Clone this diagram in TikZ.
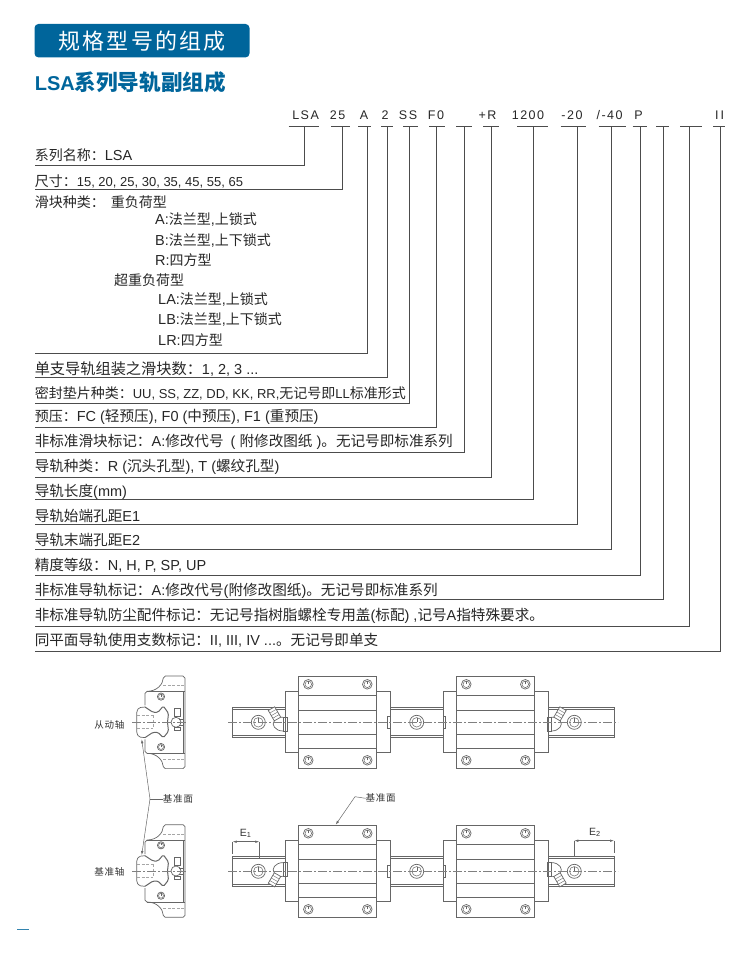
\documentclass[tikz,border=0pt]{standalone}
\usepackage{fontspec}
\setmainfont{Liberation Sans}
\newfontfamily\zhfont{Noto Sans CJK SC}
\newfontfamily\headfont[LetterSpace=10]{Noto Sans CJK SC}
\newfontfamily\smallzhfont[LetterSpace=8]{Noto Sans CJK SC}
\newfontfamily\codefont[LetterSpace=12]{Liberation Sans}
\newcommand{\zh}[1]{{\zhfont\fontsize{14}{16}\selectfont #1}}
\newcommand{\zhl}[1]{{\zhfont\fontsize{14.6}{16}\selectfont #1}}
\usetikzlibrary{arrows.meta}
\definecolor{headblue}{HTML}{00659B}
\definecolor{drawgray}{HTML}{666666}
\tikzset{
	lbl/.style={anchor=west,inner sep=0pt,text height=12pt,text depth=2pt,text=black!85,font=\fontsize{13}{15}\selectfont},
	lblwide/.style={lbl,font=\fontsize{14.5}{16}\selectfont},
	codetext/.style={inner sep=0pt,text=black!85,font=\codefont\fontsize{12.5}{15}\selectfont},
	leader/.style={draw=black!70,line width=0.9pt},
	underscore/.style={draw=black!70,line width=0.8pt},
	part/.style={draw=drawgray,line width=0.7pt},
	heavy/.style={draw=drawgray,line width=1pt},
	axisline/.style={draw=gray,line width=0.4pt,dash pattern=on 9pt off 2pt on 2pt off 2pt},
	hidden/.style={draw=gray!70,line width=0.4pt,dash pattern=on 3pt off 1.5pt},
	smalltxt/.style={inner sep=0pt,text=black!80,font=\smallzhfont\fontsize{9.5}{11}\selectfont},
	dimline/.style={draw=drawgray,line width=0.5pt},
}

\newcommand{\screwhole}[2]{

\begin{scope}[shift={#1}]
	\filldraw[part,fill=white] (0,0) circle (#2);
	\draw[part,line width=0.5pt] (0,0) circle (#2*0.68);
	\draw[dimline,line width=0.3pt] (0,0) -- (0,-#2*0.68);
\end{scope}

}

\newcommand{\railblock}[1]{

\begin{scope}[shift={(#1,0)}]
	\filldraw[heavy,fill=white] (0,-30.5) rectangle (105.5,30.5);
	\filldraw[part,fill=white] (13.7,-46.3) rectangle (91.7,46.3);
	\foreach \y in {-27.3,-11.6,11.7,26.4}
		\draw[part] (13.7,\y) -- (91.7,\y);
	; %end for \y
	\foreach \x in {23.3,82.3}
		\foreach \y in {-38,38}
			\screwhole{(\x,\y)}{4.8}
		; %end for \y
	; %end for \x
\end{scope}

}

\newcommand{\nipple}[2]{

\begin{scope}[shift={#1},yscale=#2]
	\draw[part] (0,-5) rectangle (4.3,8.7);
	\draw[part] (-2.3,-5.15) -- (0,-5);
	\draw[part] (-8.7,-1.45) .. controls (-12,2) and (-8,8.7) .. (0,8.7);
	\filldraw[part,fill=white] (-14.7,-11.85) -- (-8.3,-15.55) -- (-2.3,-5.15) -- (-8.7,-1.45) -- cycle;
	\draw[part,line width=0.4pt] (-13.2,-9.25) -- (-6.8,-12.95);
	\draw[part,line width=0.4pt] (-11.7,-6.65) -- (-5.3,-10.35);
	\draw[part,line width=0.4pt] (-10.2,-4.05) -- (-3.8,-7.75);
\end{scope}

}

\newcommand{\railview}[2]{

\begin{scope}[shift={(0,#1)}]
	\draw[part] (232.7,-15.3) rectangle (614,15.3);
	\draw[part] (232.7,-13) -- (614,-13);
	\draw[part] (232.7,13) -- (614,13);
	\foreach \x in {258.3,416.7,574.3}
		\screwhole{(\x,0)}{7}
	; %end for \x
	\railblock{285}
	\railblock{443}
	\draw[part] (387.7,-6.3) rectangle (390.5,6.3);
	\draw[part] (443,-6.3) rectangle (445.5,6.3);
	\nipple{(283,0)}{#2}
	\begin{scope}[shift={(551.5,0)},xscale=-1]
		\nipple{(0,0)}{#2}
	\end{scope}
	\draw[axisline] (228,0) -- (618,0);
\end{scope}

}

\newcommand{\sideview}[1]{

\begin{scope}[shift={#1}]
	\draw[part] (-5,-17) -- (-5,-29) -- (-3,-31) .. controls (7,-31) and (13,-38) .. (13.3,-44.3) -- (15.3,-46.3) -- (33,-46.3) -- (35,-44.3) -- (35,44.3) -- (33,46.3) -- (15.3,46.3) -- (13.3,44.3) .. controls (13,38) and (7,31) .. (-3,31) -- (-5,29) -- (-5,17);
	\draw[part] (-3,-31) -- (35,-31);
	\draw[part] (-3,31) -- (35,31);
	\draw[part] (33.3,-31) -- (33.3,31);
	\foreach \y in {-37,37}
		\draw[hidden] (13.3,\y) -- (35,\y);
	; %end for \y
	\screwhole{(11,-25.7)}{3.6}
	\screwhole{(11,24.7)}{3.6}
	\draw[part,rounded corners=1.5pt] (-5,-15.3) -- (-11,-14.7) -- (-13.3,-11) -- (-13.3,11) -- (-11,14.7) -- (-5,15.3);
	\draw[heavy,rounded corners=1.5pt] (-5,-15.3) -- (3,-10) -- (8,-10) -- (13.3,-16.3) -- (18.5,-9) -- (17.5,0) -- (18.5,9) -- (13.3,15.5) -- (8,10) -- (3,10) -- (-5,15.3);
	\foreach \y in {-7,6}
		\draw[hidden] (-13,\y) -- (3,\y);
	; %end for \y
	\draw[hidden] (3,-7) -- (3,6);
	\draw[part] (26,0) circle (5);
	\draw[part] (24.3,-14) rectangle (30,-5.7);
	\draw[part] (24.3,5) rectangle (30,8);
	\draw[part] (29,-3) -- (33.3,-3);
	\draw[part] (29,3) -- (33.3,3);
	\draw[axisline] (-18,0) -- (37,0);
\end{scope}

}

\begin{document}
\begin{tikzpicture}[x=1pt,y=-1pt]

	\useasboundingbox (0,0) rectangle (750,954);

	% headings
	\node[fill=headblue,rounded corners=4pt,minimum width=215pt,minimum height=33.5pt,inner sep=0pt,text=white,font=\headfont\fontsize{22}{24}\selectfont] (hdrMain) at (142,40.7) {规格型号的组成};
	\node[anchor=west,inner sep=0pt,text=headblue,font=\bfseries\fontsize{20}{22}\selectfont] (hdrSub) at (34.6,82) {LSA{\zhfont\fontsize{21.6}{22}\selectfont 系列导轨副组成}};

	% model code
	\foreach \name/\x/\txt in {LSA/305.6/LSA, Size/337.5/25, Type/364/A, Num/385/2, Seal/408/SS, Pre/436/F0, Rail/487.5/+R, Len/528/1200, Start/572/-20, End/609.6/{/-40}, Grade/638.5/P, Plane/719.7/I\,I}
		\node[codetext] (code\name) at (\x,115) {\txt};
	; %end for \name

	% underscores and leaders to the rows
	\foreach \name/\xa/\xb/\xv/\ya in {LSA/288.5/318.8/304.3/165, Size/331/350/342.8/189, Type/358/371/367.8/353, Num/381/393/387/377, Seal/403/418/409.6/403, Pre/429/445/436.5/427, Std/456/472/464/452, Rail/483/498.6/491/477, Len/517/548/533/499, Start/560.6/585.6/577/524, End/598.6/626/611.5/549, Grade/632.7/646.6/640/575, Mark/656/669/663/599, Dust/680/702/689/626, Plane/713/724.5/720/651}{
		\draw[underscore] (\xa,126.3) -- (\xb,126.3);
		\coordinate (tick\name) at (\xv,126.3);
		\coordinate (row\name) at (34.6,\ya);
		\draw[leader] (tick\name) |- (row\name);
	} %end for \name

	% rows
	\node[lblwide] (lblSeries) at (34.6,155) {\zh{系列名称：}LSA};
	\node[lbl] (lblSize) at (34.6,181) {\zh{尺寸：}15, 20, 25, 30, 35, 45, 55, 65};
	\node[lbl] (lblType) at (34.6,202) {\zh{滑块种类：}};
	\node[lbl] (lblHeavy) at (110.7,202) {\zh{重负荷型}};
	\node[lblwide] (lblA) at (155,219.5) {A:\zh{法兰型},\zh{上锁式}};
	\node[lblwide] (lblB) at (155,240) {B:\zh{法兰型},\zh{上下锁式}};
	\node[lblwide] (lblR) at (155,260) {R:\zh{四方型}};
	\node[lbl] (lblSuper) at (114,280) {\zh{超重负荷型}};
	\node[lblwide] (lblLA) at (158,299.5) {LA:\zh{法兰型},\zh{上锁式}};
	\node[lblwide] (lblLB) at (158,319.5) {LB:\zh{法兰型},\zh{上下锁式}};
	\node[lblwide] (lblLR) at (158,340) {LR:\zh{四方型}};
	\node[lblwide] (lblNum) at (34.6,369) {{\zhfont\fontsize{15.2}{16}\selectfont 单支导轨组装之滑块数：}1, 2, 3 ...};
	\node[lbl] (lblSeal) at (34.6,393) {\zh{密封垫片种类：}UU, SS, ZZ, DD, KK, RR,\zh{无记号即}LL\zh{标准形式}};
	\node[lblwide] (lblPre) at (34.6,416) {\zh{预压：}FC (\zhl{轻预压}), F0 (\zhl{中预压}), F1 (\zhl{重预压})};
	\node[lblwide] (lblStd) at (34.6,441) {\zhl{非标准滑块标记：}A:\zhl{修改代号}\hspace{3pt} ( \zhl{附修改图纸} )\zhl{。无记号即标准系列}};
	\node[lblwide] (lblRail) at (34.6,466) {\zhl{导轨种类：}R (\zhl{沉头孔型}), T (\zhl{螺纹孔型})};
	\node[lblwide] (lblLen) at (34.6,491) {\zhl{导轨长度}(mm)};
	\node[lblwide] (lblStart) at (34.6,516) {\zhl{导轨始端孔距}E1};
	\node[lblwide] (lblEnd) at (34.6,540) {\zhl{导轨末端孔距}E2};
	\node[lblwide] (lblGrade) at (34.6,565) {\zhl{精度等级：}N, H, P, SP, UP};
	\node[lblwide] (lblMark) at (34.6,590) {\zhl{非标准导轨标记：}A:\zhl{修改代号}(\zhl{附修改图纸})\zhl{。无记号即标准系列}};
	\node[lblwide] (lblDust) at (34.6,615) {\zhl{非标准导轨防尘配件标记：无记号指树脂螺栓专用盖}(\zhl{标配}) ,\zhl{记号}A\zhl{指特殊要求。}};
	\node[lblwide] (lblPlane) at (34.6,640) {\zhl{同平面导轨使用支数标记：}II, III, IV ...\zhl{。无记号即单支}};

	% side views
	\sideview{(150,722.3)}
	\sideview{(150,871)}
	\node[smalltxt] (lblDriven) at (109.3,725) {从动轴};
	\node[smalltxt] (lblBase) at (109.3,872) {基准轴};
	\node[smalltxt] (lblFaceSide) at (178,799) {基准面};
	\coordinate (branchSide) at (150,799);
	\coordinate (tipUpper) at (141.7,739.3);
	\coordinate (tipLower) at (141.7,855);
	\draw[dimline] (lblFaceSide.west) -- (branchSide);
	\draw[dimline,-{Latex[length=4pt,width=2.5pt]}] (branchSide) -- (tipUpper);
	\draw[dimline,-{Latex[length=4pt,width=2.5pt]}] (branchSide) -- (tipLower);

	% rail views
	\railview{722.3}{1}
	\railview{871.3}{-1}

	% datum face
	\node[smalltxt] (lblFaceTop) at (380.7,798.3) {基准面};
	\coordinate (bendFace) at (355,796.7);
	\coordinate (tipFace) at (335.7,824.7);
	\draw[dimline,-{Latex[length=4pt,width=2.5pt]}] (lblFaceTop.west) -- (bendFace) -- (tipFace);

	% hole distance E1, E2
	\coordinate (eOneA) at (232.7,841.7);
	\coordinate (eOneB) at (259.3,841.7);
	\coordinate (eTwoA) at (574.3,840.7);
	\coordinate (eTwoB) at (614,840.7);
	\draw[dimline,{Latex[length=4pt,width=2.5pt]}-{Latex[length=4pt,width=2.5pt]}] (eOneA) -- (eOneB);
	\draw[dimline,{Latex[length=4pt,width=2.5pt]}-{Latex[length=4pt,width=2.5pt]}] (eTwoA) -- (eTwoB);
	\draw[dimline] (eOneA) -- ++(0,12);
	\draw[dimline] (eOneB) -- ++(0,16);
	\draw[dimline] (eTwoA) -- ++(0,16);
	\draw[dimline] (eTwoB) -- ++(0,12);
	\node[inner sep=0pt,text=black!80,font=\fontsize{10.5}{12}\selectfont] (lblEOne) at (245.7,833.5) {E\textsubscript{1}};
	\node[inner sep=0pt,text=black!80,font=\fontsize{10.5}{12}\selectfont] (lblETwo) at (595,832.5) {E\textsubscript{2}};

	% page mark
	\draw[draw=headblue!80,line width=1pt] (17,929.3) -- (28.7,929.3);

\end{tikzpicture}
\end{document}
